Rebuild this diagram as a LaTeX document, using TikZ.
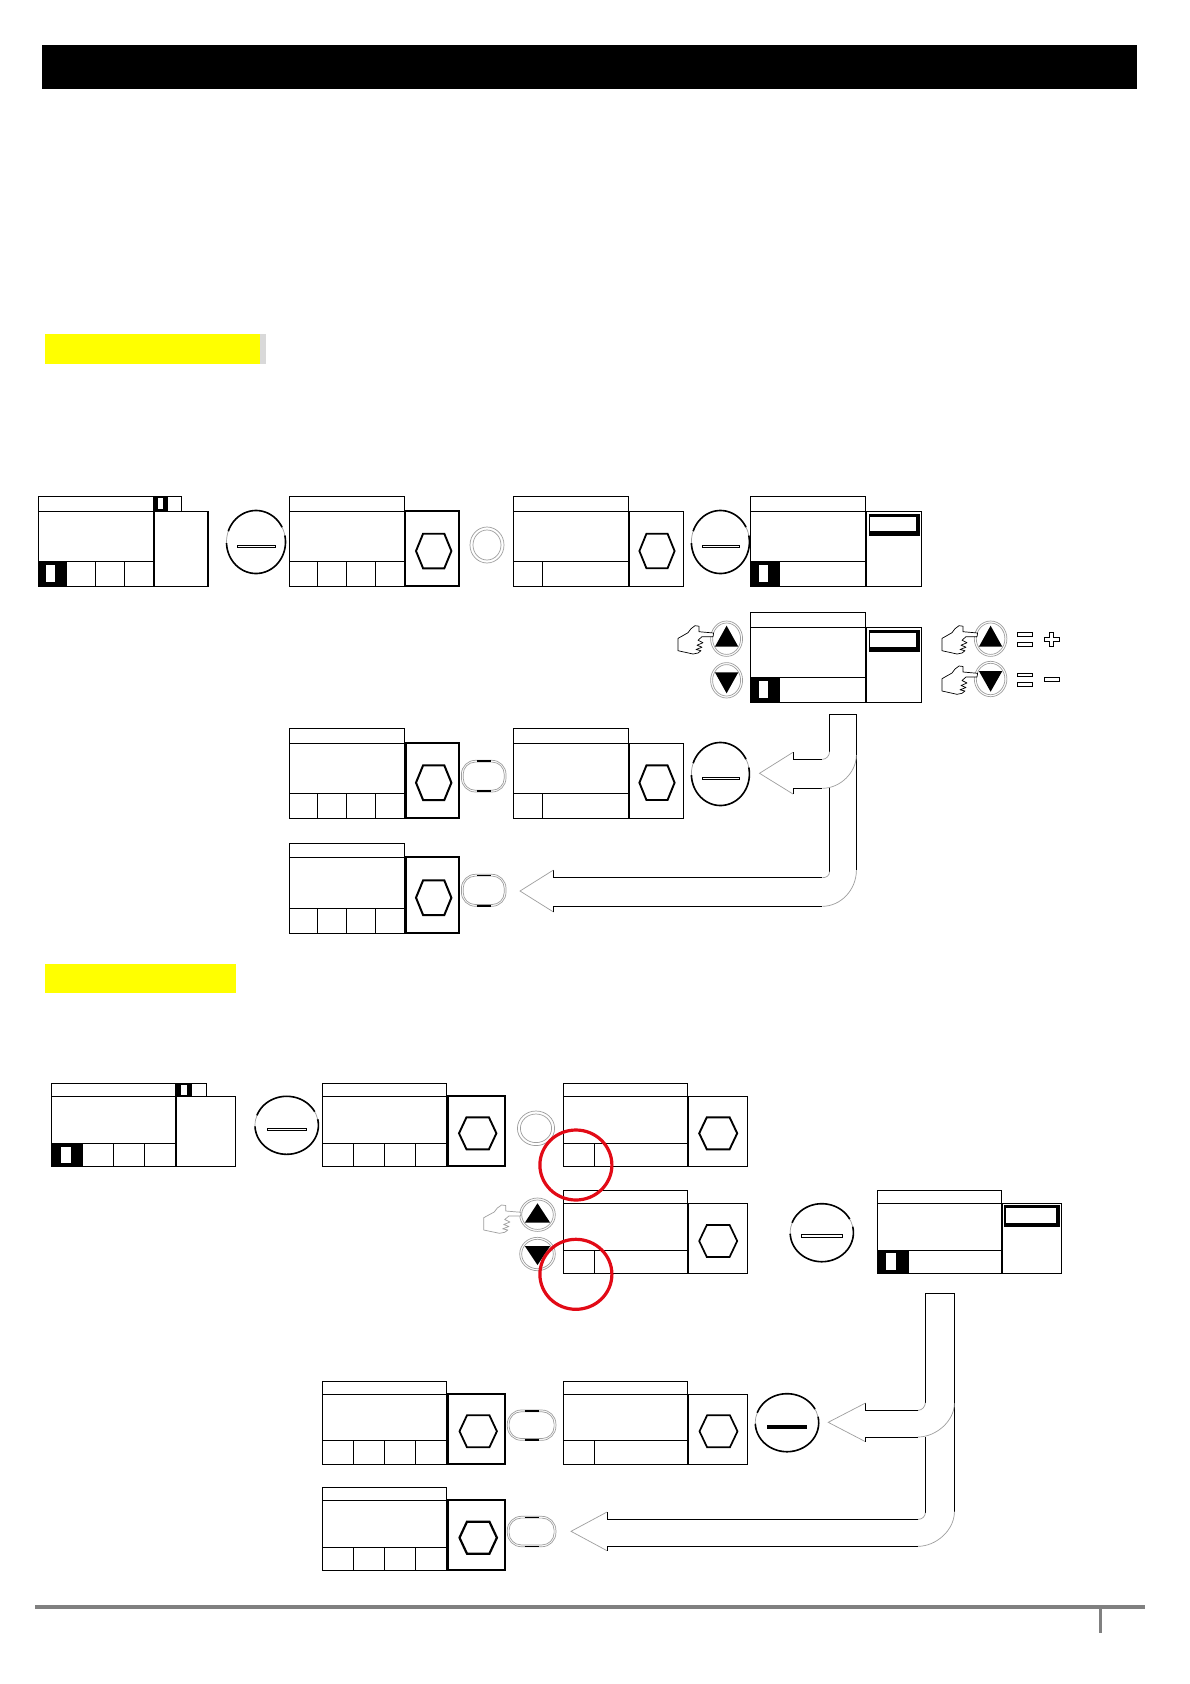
\documentclass[tikz,border=0pt]{standalone}
\usetikzlibrary{calc}
\definecolor{rimgray}{gray}{0.62}
\definecolor{barred}{RGB}{226,10,22}
\definecolor{headyellow}{RGB}{255,255,0}
\tikzset{
  ln/.style={line width=0.9pt,black,line join=miter},
  thinrim/.style={line width=0.7pt,rimgray},
}
% screen: L R PR T H Tb B dividers panel-line-width
\newcommand{\Scr}[9]{%
  \draw[ln] (#1,#5) rectangle (#2,#4);
  \draw[ln] (#1,#5) rectangle (#2,#7);
  \draw[ln] (#1,#6) -- (#2,#6);
  \foreach \d in {#8} {\draw[ln] (\d,#6) -- (\d,#7);}
  \draw[black,line width=#9pt] ({#2+1},#5) rectangle (#3,#7);
}
\newcommand{\Hex}[5]{%
  \draw[black,line width=#5pt,line join=miter]
    ({#1-#3},#2) -- ({#1-0.6*#3},{#2-#4}) -- ({#1+0.6*#3},{#2-#4}) -- ({#1+#3},#2)
    -- ({#1+0.6*#3},{#2+#4}) -- ({#1-0.6*#3},{#2+#4}) -- cycle;
}
% oval button: cx cy rx ry dash-half-width dash-y
\newcommand{\Oval}[6]{%
  \draw[thinrim] (#1,#2) ellipse[x radius=#3,y radius=#4];
  \draw[black,line width=1.6pt] plot[domain=-160:-28,samples=40,smooth] ({#1+#3*cos(\x)},{#2+#4*sin(\x)});
  \draw[black,line width=1.6pt] plot[domain=-12:178,samples=60,smooth] ({#1+#3*cos(\x)},{#2+#4*sin(\x)});
  \draw[ln,line width=0.8pt,fill=white] ({#1-#5},{#6-1.3}) rectangle ({#1+#5},{#6+1.3});
}
\newcommand{\Ring}[4]{%
  \draw[thinrim] (#1,#2) ellipse[x radius=#3,y radius=#4];
  \draw[thinrim] (#1,#2) ellipse[x radius={#3-3},y radius={#4-3}];
}
% pill: x0 x1 y0 y1 top-width bottom-width
\newcommand{\Pill}[6]{%
  \draw[thinrim,rounded corners=14pt] (#1,#3) rectangle (#2,#4);
  \draw[thinrim,rounded corners=12pt] ({#1+1.8},{#3+1.8}) rectangle ({#2-1.8},{#4-1.8});
  \draw[black,line width=#5pt] ({(#1+#2)/2-7},{#3+0.7}) -- ({(#1+#2)/2+7},{#3+0.7});
  \draw[black,line width=#6pt] ({(#1+#2)/2-7},{#4-0.7}) -- ({(#1+#2)/2+7},{#4-0.7});
}
% push button: cx cy rx ry tri-half tip-y base-y
\newcommand{\Btn}[7]{%
  \draw[thinrim] (#1,#2) ellipse[x radius=#3,y radius=#4];
  \draw[thinrim] (#1,#2) ellipse[x radius={#3-2},y radius={#4-2}];
  \fill[black] (#1,#6) -- ({#1+#5},#7) -- ({#1-#5},#7) -- cycle;
}
\newcommand{\Hand}[4]{%
  \begin{scope}[shift={(#1,#2)},xscale=#4,yscale=1]
    \draw[#3,line width=0.7pt,line join=round,fill=white]
      (0,12.7) -- (0,25) -- (15,28.3) -- (20,27.3) -- (23,25) -- (18,23.8) -- (24,21.5)
      -- (19,19.5) -- (25,17) -- (20,14.5) -- (24,11) -- (35,11) -- (35.6,7.3) -- (21,6)
      -- (21,0.5) -- (17,0) -- (13,3) -- (10,7) -- cycle;
  \end{scope}
}
% block arrow: xL xR yLs yLe xC y1 xH yH1 xA yA yH2 y2 yRe
\newcommand{\Arw}[9]{%
  \def\aXL{#1}\def\aXR{#2}\def\aYs{#3}\def\aYe{#4}\def\aXC{#5}\def\aYo{#6}\def\aXH{#7}\def\aYh{#8}\def\aXA{#9}%
  \ArwB
}
\newcommand{\ArwB}[4]{%
  \draw[ln] (\aXL,\aYs) -- (\aXL,\aYe);
  \draw[thinrim] (\aXL,\aYe) .. controls (\aXL,{\aYe+4}) and ({\aXC+4},\aYo) .. (\aXC,\aYo);
  \draw[ln] (\aXC,\aYo) -- (\aXH,\aYo) -- (\aXH,\aYh);
  \draw[thinrim] (\aXH,\aYh) -- (\aXA,#1) -- (\aXH,#2);
  \draw[ln] (\aXH,#2) -- (\aXH,#3) -- (\aXC,#3);
  \draw[thinrim] (\aXC,#3) .. controls ({\aXC+18},#3) and (\aXR,{#3-16}) .. (\aXR,#4);
}
\begin{document}
\begin{tikzpicture}[x=1pt,y=-1pt]
\useasboundingbox (0,0) rectangle (1190,1684);
\fill[white] (0,0) rectangle (1190,1684);
% title band
\fill[black] (42,44.5) rectangle (1137,88.5);
% yellow heads
\fill[black!15] (259,334) rectangle (266,364);
\fill[headyellow] (45,334) rectangle (259.5,364);
\fill[headyellow] (45,963.5) rectangle (236,993);

% ---------- first procedure, row 1
\Scr{38}{153.3}{208}{496}{511.3}{561}{586.3}{66.7,95.7,124.7}{1.3}
\draw[ln] (153.3,496) rectangle (181.3,511.3);
\fill[black] (153.3,496) rectangle (167.7,511.3);
\fill[white] (157.7,497.7) rectangle (163.3,509);
\fill[black] (38,561) rectangle (66.7,586.3);
\fill[white] (46,565) rectangle (55.3,582.3);
\Oval{256}{542}{29.5}{31.5}{19}{546.3}
\Scr{289.3}{404.3}{459}{496}{511.3}{561}{586.3}{317.3,346.7,375.7}{2.2}
\Hex{433.7}{551}{17.7}{17.3}{1.9}
\Ring{487}{545}{17}{18}
\Scr{513.4}{628.6}{683.3}{496}{511.3}{561}{586.3}{542}{0.9}
\Hex{657}{551}{17.6}{17.3}{1.8}
\Oval{720.4}{542}{29}{31.5}{18.5}{546.3}
\Scr{750.3}{865.5}{921.4}{496}{511.3}{561}{586.3}{779.8}{0.9}
\fill[black] (750.3,561) rectangle (779.8,586.3);
\fill[white] (759,565) rectangle (768,582.3);
\fill[black] (868.5,514) rectangle (919.8,535.7);
\fill[white] (870,517) rectangle (916,531);

% row 2
\Scr{750.3}{865.5}{921.4}{612.3}{627.3}{677.3}{702.3}{779.8}{0.9}
\fill[black] (750.3,677.3) rectangle (779.8,702.3);
\fill[white] (759,681) rectangle (768,698);
\fill[black] (868.5,630) rectangle (919.8,651.7);
\fill[white] (870,633) rectangle (916,647);
\Btn{726.6}{638.7}{16}{17.7}{11.7}{625.7}{646.7}
\Btn{726.6}{680.3}{16}{17.7}{11.7}{693.3}{672.3}
\Hand{678}{625.7}{black}{1}
\Btn{990.6}{638.7}{16.3}{17.7}{11.7}{625.7}{646.7}
\Btn{990.6}{679}{16.3}{17.7}{11.7}{691.7}{671}
\Hand{942}{625.7}{black}{1}
\Hand{942}{666}{black}{1}
\draw[ln,line width=0.8pt] (1017.4,632.5) rectangle (1032.7,636);
\draw[ln,line width=0.8pt] (1017.4,642.5) rectangle (1032.7,646);
\draw[ln,line width=0.8pt] (1017.4,673) rectangle (1032.7,676.5);
\draw[ln,line width=0.8pt] (1017.4,682.5) rectangle (1032.7,686);
\draw[ln,line width=0.8pt] (1049.5,632.7) -- (1053.5,632.7) -- (1053.5,637.7) -- (1059,637.7) -- (1059,641.7) -- (1053.5,641.7) -- (1053.5,646.7) -- (1049.5,646.7) -- (1049.5,641.7) -- (1044,641.7) -- (1044,637.7) -- (1049.5,637.7) -- cycle;
\draw[ln,line width=0.8pt] (1044,677.7) rectangle (1059,681.7);

% row 3
\Scr{289.4}{404.4}{459}{728.3}{743.3}{793.3}{818.3}{317.5,346.5,375.5}{2.2}
\Hex{433.7}{782.7}{17.7}{17.3}{2}
\Pill{461.4}{506}{760.3}{792}{1.8}{1.8}
\Scr{513.6}{628.6}{683.3}{728.3}{743.3}{793.3}{818.3}{542.4}{0.9}
\Hex{657}{782.7}{17.6}{17.3}{1.9}
\Oval{720.4}{774}{29}{31.5}{18.5}{778.3}
% row 4
\Scr{289.4}{404.4}{459}{843.3}{857.3}{908.3}{933.3}{317.5,346.5,375.5}{2.2}
\Hex{433.7}{897.7}{17.7}{17.3}{2}
\Pill{461.4}{506}{874.3}{906.3}{0.8}{1.8}
% curved arrows, first procedure
\draw[ln] (829.5,714.3) -- (856.4,714.3) -- (856.4,870);
\Arw{829.5}{856.4}{714.3}{751.7}{822.4}{759.3}{793}{752.3}{759.5}{773.3}{794}{788.3}{755}
\Arw{829.5}{856.4}{788.3}{871.7}{822.4}{877.7}{553.5}{870}{520}{891}{912}{906.3}{870}

% ---------- second procedure, row 1
\Scr{51.3}{175.7}{235.3}{1083.3}{1096.3}{1143.3}{1166.3}{82.7,113.3,144.7}{0.9}
\draw[ln] (176.7,1083.3) rectangle (206.3,1096.3);
\fill[black] (176.7,1083.3) rectangle (191.7,1096.3);
\fill[white] (180.7,1085) rectangle (187,1095);
\fill[black] (51.3,1143.3) rectangle (82.7,1166.3);
\fill[white] (60.7,1146.7) rectangle (70.7,1162.7);
\Oval{286.7}{1125.3}{31.7}{29}{19.7}{1129.3}
\Scr{322.3}{446.7}{505.3}{1083.3}{1096.3}{1143.3}{1166.3}{353.3,384.7,415.7}{2}
\Hex{477.7}{1133.3}{18.7}{16}{1.9}
\Ring{536}{1128.3}{18.6}{17.3}
\Scr{563.6}{687.8}{747}{1083.3}{1096.3}{1143.3}{1166.3}{594.4}{0.9}
\Hex{718.2}{1133.3}{19}{16}{1.9}
% row 2
\Btn{537.5}{1214.7}{17.8}{16.7}{12.7}{1203.3}{1222.7}
\Btn{537.5}{1254}{17.8}{16.7}{12.7}{1265}{1246}
\Hand{483.7}{1205}{rimgray}{1.05}
\Scr{563.6}{687.8}{747}{1190.3}{1203.3}{1250.3}{1273}{594.4}{0.9}
\Hex{718.2}{1241}{19}{16}{1.7}
\Oval{821.8}{1232.7}{31.6}{29}{20.5}{1236}
\Scr{877.6}{1001.7}{1061}{1190.3}{1203.3}{1250.3}{1273}{908.8}{0.9}
\fill[black] (877.6,1250.3) rectangle (908.8,1273);
\fill[white] (886.2,1253.3) rectangle (896,1270);
\fill[black] (1004,1205) rectangle (1060,1226.7);
\fill[white] (1005.5,1208.3) rectangle (1056,1223);
% row 3
\Scr{322.5}{446.6}{505}{1381}{1394.3}{1440.3}{1464.3}{353.7,384.6,415.5}{2}
\Hex{478.2}{1431.3}{18.7}{16}{1.8}
\Pill{507.3}{555.9}{1410}{1440.3}{1.8}{1.8}
\Scr{563.2}{687.7}{747.4}{1381}{1394.3}{1440.3}{1464.3}{594.4}{0.9}
\Hex{718.5}{1431.3}{19}{16}{1.7}
\Oval{787}{1422.7}{31.7}{29}{19.8}{1426.7}
\fill[black] (767.2,1425.9) rectangle (806.8,1427.5);
% row 4
\Scr{322.5}{446.6}{505}{1487.3}{1500.3}{1547.3}{1570.3}{353.7,384.6,415.5}{2}
\Hex{478.2}{1537.7}{18.7}{16}{2.2}
\Pill{507.3}{555.9}{1516.3}{1546.7}{0.8}{0.8}
% curved arrows, second procedure
\draw[ln] (925.3,1293.3) -- (954.4,1293.3) -- (954.4,1511.7);
\Arw{925.3}{954.4}{1293.3}{1402.7}{918}{1410.3}{865.5}{1403}{828.2}{1422.3}{1441.7}{1437}{1403.3}
\Arw{925.3}{954.4}{1437}{1512.7}{918}{1519.3}{607}{1512}{571}{1531.3}{1550.7}{1546.3}{1511.7}

% red marks
\draw[barred,line width=3.2pt] (575.9,1165) ellipse[x radius=36,y radius=35];
\draw[barred,line width=3.2pt] (575.9,1274.3) ellipse[x radius=36,y radius=35];

% footer
\fill[gray] (35,1605) rectangle (1145,1609);
\fill[gray] (1098.5,1609) rectangle (1102,1633);
\end{tikzpicture}
\end{document}
